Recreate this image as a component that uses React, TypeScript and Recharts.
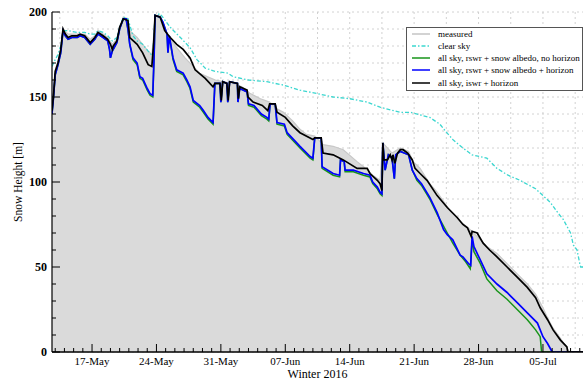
import React from 'react';
import { ComposedChart, Area, Line, XAxis, YAxis, CartesianGrid, Legend, Label } from 'recharts';

// x = days after 1 May 2016 (17-May = 16), y = snow height
const measured: [number, number][] = [
  [11.65, 145], [11.8, 152], [12.0, 166], [12.3, 171], [12.6, 178], [12.85, 190], [13.4, 187], [14.4, 187],
  [15.2, 187], [15.8, 184], [16.3, 186], [16.65, 189], [17.2, 187], [17.7, 185], [18.2, 181], [18.7, 184],
  [19.0, 191], [19.4, 197], [19.9, 196], [20.1, 189], [20.9, 185], [21.5, 181], [22.1, 177], [22.5, 175],
  [22.7, 186], [22.85, 198], [23.4, 198], [23.9, 190], [24.5, 184], [25.2, 179], [26.1, 173], [27.0, 168],
  [27.7, 164], [28.5, 162], [29.4, 160], [30.2, 159], [31.3, 158], [32.3, 156], [33.2, 152], [34.3, 149],
  [35.3, 147], [36.1, 143], [36.8, 141], [37.8, 136], [38.6, 131], [39.3, 128], [40.2, 127], [41.1, 122],
  [42.2, 121], [43.3, 119], [44.8, 112], [45.5, 109], [46.5, 104], [47.3, 101], [47.6, 123], [48.6, 117],
  [49.5, 120], [50.4, 118], [50.9, 112], [51.65, 108], [52.7, 99], [53.5, 94], [54.9, 83], [56.0, 77],
  [57.1, 72], [58.2, 66], [58.9, 62], [60.0, 58], [61.1, 52], [62.2, 46], [63.3, 40], [64.2, 34],
  [65.0, 26], [65.5, 20], [66.1, 14], [66.9, 8], [67.5, 3], [67.9, 0], [69.35, 0],
];

const clearSky: [number, number][] = [
  [11.65, 168], [12.0, 172], [12.3, 175], [12.6, 180], [12.85, 189], [13.4, 189], [14.4, 188], [15.2, 188],
  [15.8, 187], [16.3, 187], [16.65, 189], [17.2, 188], [17.7, 186], [18.2, 183], [18.7, 185], [19.0, 191],
  [19.4, 197], [19.9, 196], [20.45, 186], [20.9, 183], [21.5, 181], [22.1, 177], [22.6, 174], [22.85, 198],
  [23.4, 199], [24.5, 191], [25.6, 185], [26.65, 179], [27.4, 172], [28.3, 167], [29.4, 165], [30.8, 164],
  [31.3, 162], [33.0, 160], [35.0, 159], [36.8, 157], [38.6, 154], [40.5, 152], [42.2, 150], [44.0, 149],
  [45.9, 147], [47.3, 144], [49.5, 141], [50.6, 141], [52.7, 138], [53.8, 134], [54.4, 130], [55.2, 125],
  [56.3, 120], [57.3, 116], [58.9, 114], [60.0, 108], [61.2, 104], [62.5, 101], [64.2, 96], [65.0, 92],
  [65.8, 88], [66.6, 82], [67.2, 78], [68.0, 70], [68.3, 63], [68.7, 60], [69.0, 52], [69.1, 50], [69.35, 50],
];

const albedoNoHorizon: [number, number][] = [
  [11.65, 140], [11.8, 149], [12.0, 163], [12.3, 169], [12.6, 176], [12.85, 189], [13.1, 186], [13.4, 184],
  [13.8, 185], [14.4, 185], [14.7, 186], [15.2, 185], [15.8, 181], [16.3, 184], [16.65, 187], [17.2, 185],
  [17.7, 183], [17.9, 178], [18.0, 173], [18.2, 177], [18.7, 182], [19.0, 190], [19.4, 196], [19.7, 196],
  [19.9, 190], [20.1, 181], [20.45, 172], [20.9, 169], [21.2, 161], [21.5, 160], [22.0, 154], [22.3, 151],
  [22.6, 150], [22.75, 175], [22.85, 198], [23.4, 197], [23.7, 194], [24.15, 187], [24.25, 176], [24.4, 186],
  [24.8, 172], [25.2, 165], [25.9, 163], [26.3, 159], [26.65, 155], [27.0, 147], [27.7, 144], [28.1, 141],
  [28.6, 137], [29.15, 134], [29.35, 158], [29.9, 158], [30.0, 147], [30.2, 159], [30.65, 158], [30.75, 147],
  [30.95, 159], [31.8, 158], [31.85, 147], [32.05, 155], [32.85, 153], [33.0, 145], [33.6, 144], [34.4, 139],
  [35.0, 137], [35.2, 136], [35.35, 146], [35.9, 146], [36.1, 134], [36.9, 133], [37.2, 128], [38.6, 120],
  [39.7, 114], [40.0, 113], [40.2, 126], [40.9, 126], [41.0, 108], [42.2, 104], [42.9, 103], [43.0, 113],
  [43.4, 112], [43.5, 106], [44.4, 106], [45.5, 104], [46.2, 103], [46.5, 99], [47.0, 96], [47.3, 93],
  [47.5, 92], [47.6, 123], [47.85, 107], [48.2, 116], [48.6, 114], [48.85, 102], [49.0, 116], [49.5, 118],
  [50.4, 116], [50.8, 107], [51.3, 101], [51.8, 98], [52.7, 90], [53.5, 81], [53.9, 77], [54.6, 70],
  [55.2, 64], [56.0, 57], [56.6, 53], [57.1, 49], [57.3, 66], [57.5, 59], [58.2, 52], [58.9, 43],
  [60.0, 36], [61.1, 31], [62.2, 25], [63.3, 19], [64.2, 13], [64.7, 9], [64.85, 0], [69.35, 0],
];

const albedoHorizon: [number, number][] = [
  [11.65, 140], [11.8, 149], [12.0, 163], [12.3, 169], [12.6, 176], [12.85, 189], [13.1, 186], [13.4, 184],
  [13.8, 185], [14.4, 185], [14.7, 186], [15.2, 185], [15.8, 181], [16.3, 184], [16.65, 187], [17.2, 185],
  [17.7, 183], [17.9, 178], [18.0, 173], [18.2, 177], [18.7, 182], [19.0, 190], [19.4, 196], [19.7, 196],
  [19.9, 190], [20.1, 181], [20.45, 173], [20.9, 170], [21.2, 162], [21.5, 161], [22.0, 155], [22.3, 152],
  [22.6, 151], [22.75, 175], [22.85, 198], [23.4, 197], [23.7, 194], [24.15, 187], [24.25, 176], [24.4, 186],
  [24.8, 173], [25.2, 166], [25.9, 164], [26.3, 160], [26.65, 156], [27.0, 148], [27.7, 145], [28.1, 142],
  [28.6, 138], [29.15, 135], [29.35, 158], [29.9, 158], [30.0, 147], [30.2, 159], [30.65, 158], [30.75, 147],
  [30.95, 159], [31.8, 158], [31.85, 147], [32.05, 155], [32.85, 153], [33.0, 146], [33.6, 145], [34.4, 140],
  [35.0, 138], [35.2, 137], [35.35, 146], [35.9, 146], [36.1, 135], [36.9, 134], [37.2, 129], [38.6, 121],
  [39.7, 115], [40.0, 114], [40.2, 126], [40.9, 126], [41.0, 109], [42.2, 105], [42.9, 104], [43.0, 113],
  [43.4, 112], [43.5, 107], [44.4, 107], [45.5, 105], [46.2, 104], [46.5, 100], [47.0, 97], [47.3, 94],
  [47.5, 93], [47.6, 123], [47.85, 107], [48.2, 116], [48.6, 114], [48.85, 102], [49.0, 116], [49.5, 118],
  [50.4, 116], [50.8, 107], [51.3, 102], [51.8, 99], [52.7, 91], [53.5, 82], [54.2, 72], [54.6, 69],
  [55.2, 66], [56.0, 57], [56.3, 56], [56.9, 52], [57.15, 51], [57.3, 68], [57.5, 62], [58.2, 54],
  [58.9, 46], [60.0, 40], [61.1, 35], [62.2, 29], [63.3, 23], [64.4, 17], [65.0, 9], [65.5, 5],
  [66.0, 0], [69.35, 0],
];

const iswrHorizon: [number, number][] = [
  [11.65, 142], [11.8, 150], [12.0, 165], [12.3, 170], [12.6, 178], [12.85, 190], [13.1, 187], [13.4, 185],
  [13.8, 186], [14.4, 186], [14.7, 187], [15.2, 186], [15.8, 182], [16.3, 185], [16.65, 188], [17.2, 186],
  [17.7, 184], [18.0, 181], [18.2, 178], [18.3, 180], [18.7, 183], [19.0, 191], [19.4, 196], [19.9, 195],
  [20.1, 185], [20.9, 181], [21.5, 176], [22.1, 169], [22.5, 168], [22.7, 182], [22.85, 198], [23.4, 197],
  [23.9, 189], [24.5, 185], [25.2, 181], [25.9, 178], [26.65, 173], [27.2, 166], [28.3, 161], [29.15, 156],
  [29.35, 158], [29.9, 158], [30.05, 148], [30.2, 159], [30.65, 158], [30.8, 148], [30.95, 159], [31.8, 158],
  [31.9, 149], [32.05, 156], [32.85, 154], [32.95, 150], [33.5, 147], [34.5, 145], [35.1, 142], [35.3, 146],
  [35.9, 146], [36.1, 141], [37.0, 138], [37.8, 133], [38.6, 129], [40.0, 125], [40.2, 126], [40.9, 126],
  [41.1, 117], [42.2, 116], [43.3, 113], [44.8, 108], [45.9, 108], [46.2, 105], [47.0, 101], [47.3, 99],
  [47.5, 95], [47.6, 123], [47.7, 113], [48.1, 113], [48.4, 116], [48.6, 113], [48.7, 116], [48.9, 111],
  [49.2, 117], [49.5, 119], [49.8, 119], [50.3, 117], [50.8, 113], [51.1, 108], [51.65, 105], [52.4, 101],
  [53.5, 92], [54.6, 85], [55.7, 79], [56.3, 75], [56.8, 73], [57.2, 68], [57.3, 71], [57.85, 70],
  [58.5, 64], [59.2, 60], [60.0, 56], [61.1, 50], [62.2, 44], [63.3, 38], [64.2, 32], [64.7, 26],
  [65.5, 19], [66.1, 13], [66.9, 7], [67.6, 3], [67.7, 0], [69.35, 0],
];

const majorDays = [16, 23, 30, 37, 44, 51, 58, 65];
const majorLabels = ['17-May', '24-May', '31-May', '07-Jun', '14-Jun', '21-Jun', '28-Jun', '05-Jul'];
const heightLabels = [0, 50, 100, 150, 200];

const X_DOMAIN: [number, number] = [11.65, 69.35];
const FONT = '"Liberation Serif", "DejaVu Serif", "Times New Roman", serif';

const dayTicks: number[] = [];
for (let d = 12; d <= 69; d++) dayTicks.push(d);
const heightTicks: number[] = [];
for (let h = 0; h <= 200; h += 10) heightTicks.push(h);
const gridDays: number[] = [];
for (let d = 12.5; d < X_DOMAIN[1]; d += 3.5) gridDays.push(d);

const legendItems = [
  { label: 'measured', color: '#c4c4c4', dash: undefined, width: 1.5, h: 10 },
  { label: 'clear sky', color: '#3cd7d0', dash: '4 2 1.5 2', width: 1.3, h: 13 },
  { label: 'all sky, rswr + snow albedo, no horizon', color: '#17941a', dash: undefined, width: 1.5, h: 12.3 },
  { label: 'all sky, rswr + snow albedo + horizon', color: '#0000ff', dash: undefined, width: 1.5, h: 12.3 },
  { label: 'all sky, iswr + horizon', color: '#000000', dash: undefined, width: 1.5, h: 12.3 },
];

function buildRows() {
  const rows = new Map<number, any>();
  const put = (key: string, pts: [number, number][]) => {
    pts.forEach(([d, v]) => {
      const r = rows.get(d) ?? { d };
      r[key] = v;
      rows.set(d, r);
    });
  };
  put('measured', measured);
  put('clear', clearSky);
  put('noHorizon', albedoNoHorizon);
  put('horizon', albedoHorizon);
  put('iswr', iswrHorizon);
  return [...rows.values()].sort((a, b) => a.d - b.d);
}

const rows = buildRows();

function BottomTick(props: any) {
  const { x, y, payload } = props;
  const i = majorDays.indexOf(payload.value);
  return (
    <g>
      <line x1={x} x2={x} y1={y} y2={y - (i >= 0 ? 8 : 4)} stroke="#000" />
      {i >= 0 && (
        <text x={x} y={y + 13} textAnchor="middle" fontSize={11} fontFamily={FONT} fill="#000">
          {majorLabels[i]}
        </text>
      )}
    </g>
  );
}

function TopTick(props: any) {
  const { x, y, payload } = props;
  const major = majorDays.includes(payload.value);
  return <line x1={x} x2={x} y1={y} y2={y + (major ? 8 : 4)} stroke="#000" />;
}

function LeftTick(props: any) {
  const { x, y, payload } = props;
  const major = heightLabels.includes(payload.value);
  return (
    <g>
      <line x1={x} x2={x + (major ? 8 : 4)} y1={y} y2={y} stroke="#000" />
      {major && (
        <text x={x - 5} y={y + 4} textAnchor="end" fontSize={12} fontWeight="bold" fontFamily={FONT} fill="#000">
          {payload.value}
        </text>
      )}
    </g>
  );
}

function RightTick(props: any) {
  const { x, y, payload } = props;
  const major = heightLabels.includes(payload.value);
  return <line x1={x} x2={x - (major ? 8 : 4)} y1={y} y2={y} stroke="#000" />;
}

function LegendBox() {
  return (
    <div
      style={{
        border: '1px solid #555',
        background: '#fff',
        fontFamily: FONT,
        fontSize: 9,
        padding: '1px 0 1px 0',
        width: 177,
        boxSizing: 'border-box',
        color: '#000',
      }}
    >
      {legendItems.map((it) => (
        <div key={it.label} style={{ display: 'flex', alignItems: 'center', height: it.h, whiteSpace: 'nowrap' }}>
          <svg width={18} height={6} style={{ marginLeft: 5, marginRight: 8, overflow: 'visible' }}>
            <line x1={0} x2={18} y1={3} y2={3} stroke={it.color} strokeWidth={it.width} strokeDasharray={it.dash} />
          </svg>
          <span>{it.label}</span>
        </div>
      ))}
    </div>
  );
}

export default function App() {
  return (
    <div style={{ position: 'absolute', left: 0, top: 0, fontFamily: FONT }}>
      <ComposedChart width={585} height={381} data={rows} margin={{ top: 12, right: 2, bottom: 0, left: 0 }}>
        <CartesianGrid
          stroke="#c6c6c6"
          strokeDasharray="2 3"
          strokeWidth={0.8}
          verticalValues={gridDays}
          horizontalValues={heightTicks}
        />
        <XAxis
          dataKey="d"
          type="number"
          domain={X_DOMAIN}
          allowDataOverflow
          ticks={dayTicks}
          interval={0}
          height={29}
          tickSize={0}
          tickMargin={0}
          tickLine={false}
          axisLine={{ stroke: '#000', strokeWidth: 1.3 }}
          tick={(p: any) => <BottomTick {...p} />}
        >
          <Label
            content={(p: any) => {
              const vb = p.viewBox;
              return (
                <text x={vb.x + vb.width / 2} y={vb.y + 26} textAnchor="middle" fontSize={12} fontFamily={FONT} fill="#000">
                  Winter 2016
                </text>
              );
            }}
          />
        </XAxis>
        <XAxis
          xAxisId="top"
          orientation="top"
          type="number"
          domain={X_DOMAIN}
          allowDataOverflow
          ticks={dayTicks}
          interval={0}
          height={0}
          tickSize={0}
          tickMargin={0}
          tickLine={false}
          axisLine={{ stroke: '#000', strokeWidth: 1 }}
          tick={(p: any) => <TopTick {...p} />}
        />
        <YAxis
          type="number"
          domain={[0, 200]}
          allowDataOverflow
          ticks={heightTicks}
          interval={0}
          width={52}
          tickSize={0}
          tickMargin={0}
          tickLine={false}
          axisLine={{ stroke: '#000', strokeWidth: 1.2 }}
          tick={(p: any) => <LeftTick {...p} />}
        >
          <Label
            content={(p: any) => {
              const vb = p.viewBox;
              const cx = vb.x + 22;
              const cy = vb.y + vb.height / 2;
              return (
                <text
                  x={cx}
                  y={cy}
                  transform={`rotate(-90 ${cx} ${cy})`}
                  textAnchor="middle"
                  fontSize={11.5}
                  fontFamily={FONT}
                  fill="#000"
                >
                  Snow Height [m]
                </text>
              );
            }}
          />
        </YAxis>
        <YAxis
          yAxisId="right"
          orientation="right"
          type="number"
          domain={[0, 200]}
          allowDataOverflow
          ticks={heightTicks}
          interval={0}
          width={0}
          tickSize={0}
          tickMargin={0}
          tickLine={false}
          axisLine={{ stroke: '#000', strokeWidth: 1 }}
          tick={(p: any) => <RightTick {...p} />}
        />
        <Area
          type="linear"
          dataKey="measured"
          name="measured"
          stroke="#c8c8c8"
          strokeWidth={1.2}
          fill="#dadada"
          fillOpacity={1}
          connectNulls
          isAnimationActive={false}
        />
        <Line
          type="linear"
          dataKey="clear"
          name="clear sky"
          stroke="#3cd7d0"
          strokeWidth={1.3}
          strokeDasharray="4 2 1.5 2"
          dot={false}
          connectNulls
          isAnimationActive={false}
        />
        <Line
          type="linear"
          dataKey="noHorizon"
          name="all sky, rswr + snow albedo, no horizon"
          stroke="#17941a"
          strokeWidth={1.5}
          dot={false}
          connectNulls
          isAnimationActive={false}
        />
        <Line
          type="linear"
          dataKey="horizon"
          name="all sky, rswr + snow albedo + horizon"
          stroke="#0000ff"
          strokeWidth={1.7}
          dot={false}
          connectNulls
          isAnimationActive={false}
        />
        <Line
          type="linear"
          dataKey="iswr"
          name="all sky, iswr + horizon"
          stroke="#000000"
          strokeWidth={1.7}
          dot={false}
          connectNulls
          isAnimationActive={false}
        />
        <Legend
          layout="horizontal"
          verticalAlign="middle"
          align="center"
          content={() => <LegendBox />}
          wrapperStyle={{ top: 27, left: 406, width: 177, height: 'auto', right: 'auto', bottom: 'auto' }}
        />
      </ComposedChart>
    </div>
  );
}
